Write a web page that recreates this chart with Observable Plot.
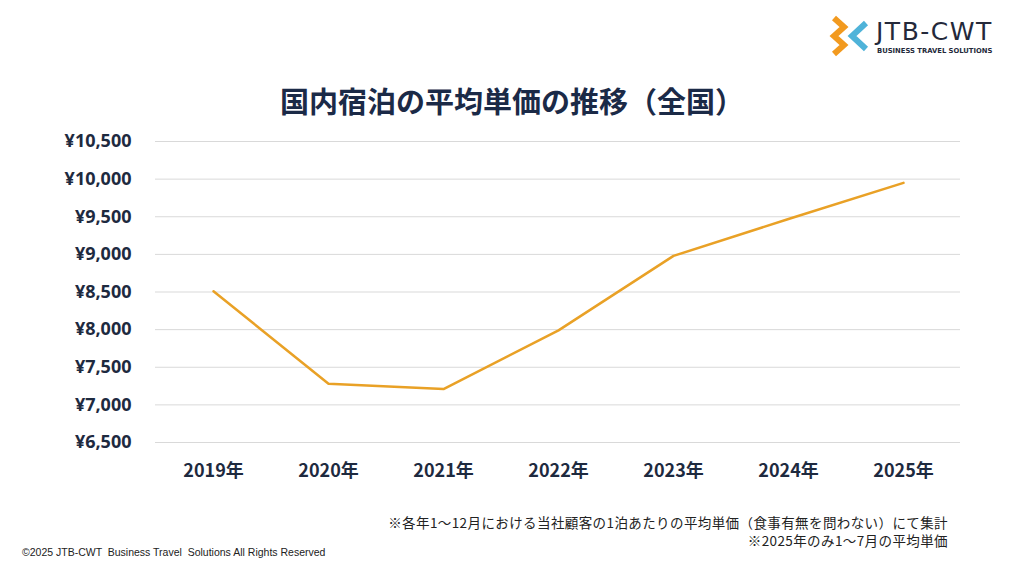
<!DOCTYPE html>
<html>
<head>
<meta charset="utf-8">
<script src="https://cdn.jsdelivr.net/npm/d3@7"></script>
<script src="https://cdn.jsdelivr.net/npm/@observablehq/plot@0.6"></script>
<style>
  html, body { margin: 0; padding: 0; background: #fff; }
  #page { position: relative; width: 1024px; height: 576px; overflow: hidden; background: #fff; font-family: "Noto Sans CJK JP", "Noto Sans", sans-serif; }
  #title { position: absolute; left: 0; width: 1024px; top: 80px; text-align: center; font-size: 29px; font-weight: 700; color: #1b2a47; line-height: 40px; }
  #chart { position: absolute; left: 0; top: 116px; }
  #note { position: absolute; right: 76px; top: 513px; text-align: right; font-size: 13.5px; color: #222; letter-spacing: 0.4px; }
  #note div { height: 18px; line-height: 18px; white-space: nowrap; }
  #copy { position: absolute; left: 22px; top: 546px; font-family: "Liberation Sans", Arial, sans-serif; font-size: 10.5px; color: #222; white-space: pre; }
  #logo { position: absolute; left: 826px; top: 14px; width: 180px; height: 46px; }
  #logo .name { position: absolute; left: 50px; top: 4px; font-family: "DejaVu Sans", sans-serif; font-size: 25px; font-weight: 400; color: #24293a; letter-spacing: 1.5px; line-height: 28px; }
  #logo .sub { position: absolute; left: 51px; top: 33px; font-family: "DejaVu Sans", sans-serif; font-size: 6.8px; font-weight: 700; color: #24293a; letter-spacing: 0px; white-space: nowrap; }
</style>
</head>
<body>
<div id="page">
  <div id="logo">
    <svg width="46" height="46" style="position:absolute;left:0;top:0">
      <polyline points="8,4 18,13 8,22 18,31 8,40" fill="none" stroke="#f29a1f" stroke-width="6" stroke-linejoin="miter"/>
      <polyline points="40,9 26,22 40,35" fill="none" stroke="#4fb3d9" stroke-width="6"/>
    </svg>
    <div class="name">JTB-CWT</div>
    <div class="sub">BUSINESS TRAVEL SOLUTIONS</div>
  </div>
  <div id="title">国内宿泊の平均単価の推移（全国）</div>
  <div id="chart"></div>
  <div id="note"><div>※各年1～12月における当社顧客の1泊あたりの平均単価（食事有無を問わない）にて集計</div><div>※2025年のみ1～7月の平均単価</div></div>
  <div id="copy">©2025 JTB-CWT  Business Travel  Solutions All Rights Reserved</div>
</div>
<script>
const years = ["2019年", "2020年", "2021年", "2022年", "2023年", "2024年", "2025年"];
const prices = [8510, 7280, 7210, 7990, 8980, 9470, 9950];
const yTicks = [6500, 7000, 7500, 8000, 8500, 9000, 9500, 10000, 10500];

const data = years.map((y, i) => ({year: y, price: prices[i]}));
const fmt = d3.format(",");

const chart = Plot.plot({
  width: 1024,
  height: 374,
  marginTop: 25,
  marginBottom: 48,
  marginLeft: 155,
  marginRight: 64,
  style: {fontFamily: "'Noto Sans CJK JP', 'Noto Sans', sans-serif", background: "transparent", overflow: "visible"},
  x: {type: "point", domain: years, padding: 0.5},
  y: {domain: [6500, 10500]},
  marks: [
    Plot.gridY(yTicks, {stroke: "#d9d9d9", strokeOpacity: 1, strokeWidth: 1}),
    Plot.axisY(yTicks, {tickSize: 0, tickPadding: 24, tickFormat: d => "¥" + fmt(d), fontSize: 18, fontWeight: 700, fill: "#1e2a3f", fontFamily: "'Noto Sans', sans-serif", label: null}),
    Plot.axisX({tickSize: 0, tickPadding: 22, fontSize: 18, fontWeight: 700, fill: "#1e2a3f", label: null}),
    Plot.line(data, {x: "year", y: "price", stroke: "#e9a126", strokeWidth: 2.5})
  ]
});
document.getElementById("chart").appendChild(chart);
</script>
</body>
</html>
